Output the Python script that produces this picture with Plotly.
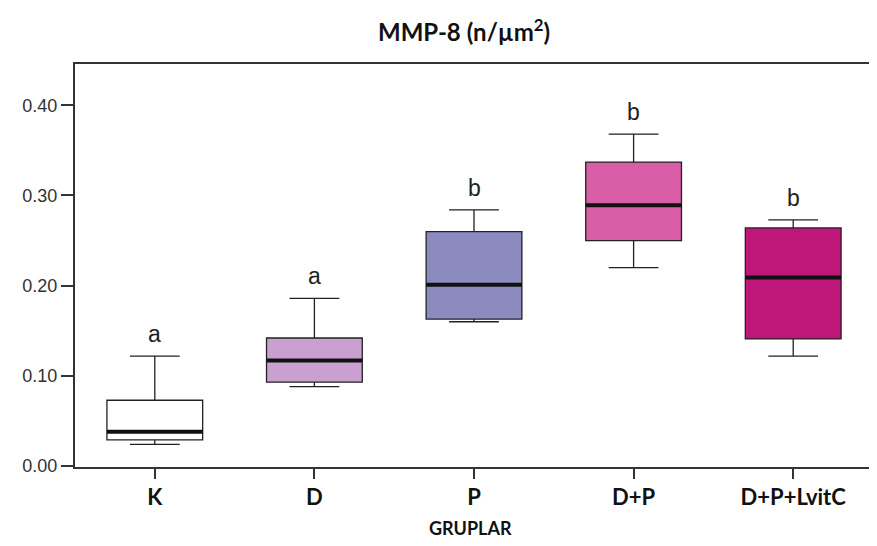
import plotly.graph_objects as go

categories = ["K", "D", "P", "D+P", "D+P+LvitC"]
minimum = [0.024, 0.088, 0.160, 0.220, 0.122]
q1 = [0.029, 0.093, 0.163, 0.250, 0.141]
median = [0.038, 0.117, 0.201, 0.289, 0.209]
q3 = [0.073, 0.142, 0.260, 0.337, 0.264]
maximum = [0.122, 0.186, 0.284, 0.368, 0.273]
letters = ["a", "a", "b", "b", "b"]
colors = ["#FFFFFF", "#C9A0D0", "#8B8BBF", "#D95EA7", "#BF1679"]

ytick_vals = [0.0, 0.1, 0.2, 0.3, 0.4]
ytick_text = ["0.00", "0.10", "0.20", "0.30", "0.40"]

BOX_W = 0.6
fig = go.Figure()

for i, c in enumerate(categories):
    fig.add_trace(go.Box(
        x=[i], q1=[q1[i]], median=[median[i]], q3=[q3[i]],
        lowerfence=[minimum[i]], upperfence=[maximum[i]],
        width=BOX_W, whiskerwidth=0.52,
        fillcolor=colors[i], line=dict(color="#222222", width=1.3),
        boxpoints=False, showlegend=False, hoverinfo="skip",
    ))
    fig.add_trace(go.Scatter(
        x=[i - BOX_W / 2, i + BOX_W / 2], y=[median[i], median[i]],
        mode="lines", line=dict(color="#111111", width=4),
        showlegend=False, hoverinfo="skip",
    ))
    fig.add_annotation(
        x=i, y=maximum[i], text=letters[i], showarrow=False,
        yanchor="bottom", yshift=7,
        font=dict(family="Liberation Sans, Arial", size=23, color="#222222"),
    )

fig.add_annotation(
    x=0.496, y=-0.151, xref="paper", yref="paper", text="<b>GRUPLAR</b>",
    showarrow=False, yanchor="middle",
    font=dict(family="Lato", size=18, color="#111111"),
)

fig.update_layout(
    width=877, height=546,
    margin=dict(l=67, r=10, t=56, b=87),
    paper_bgcolor="white", plot_bgcolor="white",
    title=dict(text="<b>MMP-8 (n/µm<sup>2</sup>)</b>", x=0.52, y=0.955,
               xref="container", yref="container", xanchor="center", yanchor="middle",
               font=dict(family="Lato", size=24, color="#111111")),
    xaxis=dict(range=[-0.5, 4.5], tickvals=list(range(len(categories))), ticktext=categories,
               showline=True, linecolor="#333333", linewidth=2, mirror=True,
               ticks="outside", ticklen=10, tickcolor="#333333", tickwidth=1.5,
               showgrid=False, zeroline=False,
               tickfont=dict(family="Lato", size=22, color="#111111", weight="bold")),
    yaxis=dict(range=[-0.001, 0.4457], tickvals=ytick_vals, ticktext=ytick_text,
               showline=True, linecolor="#333333", linewidth=2, mirror=True,
               ticks="outside", ticklen=12, tickcolor="#333333", tickwidth=1.5,
               showgrid=False, zeroline=False,
               tickfont=dict(family="Liberation Sans, Arial", size=18, color="#333333")),
)

fig.write_html("out.html")
